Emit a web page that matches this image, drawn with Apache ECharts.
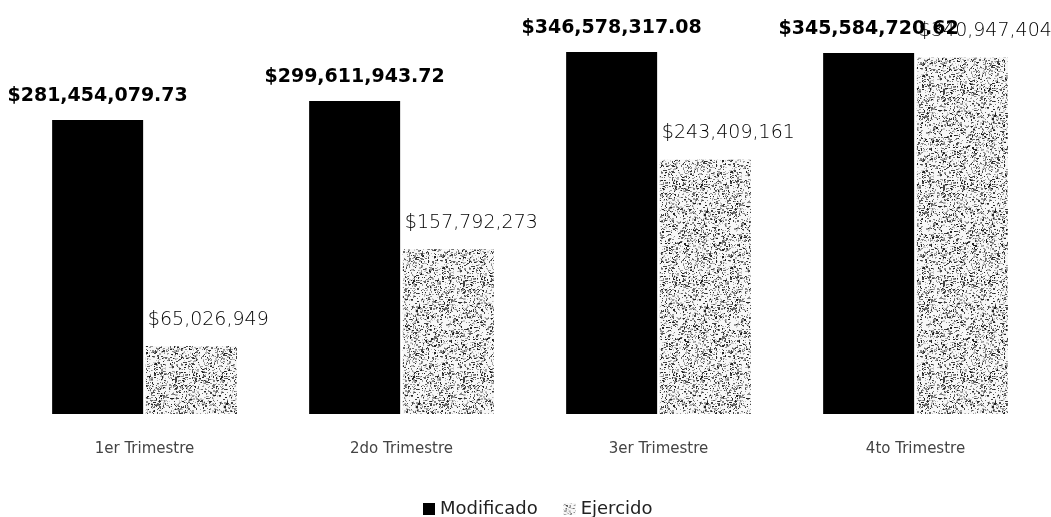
<!DOCTYPE html>
<html>
<head>
<meta charset="utf-8">
<script src="https://cdn.jsdelivr.net/npm/echarts@6/dist/echarts.min.js"></script>
<style>
html,body{margin:0;padding:0;background:#fff;}
#chart{width:1051px;height:517px;}
</style>
</head>
<body>
<div id="chart"></div>
<script>
// ---- data ----
const categories = ['1er Trimestre', '2do Trimestre', '3er Trimestre', '4to Trimestre'];
const seriesNames = ['Modificado', 'Ejercido'];
const modificado = [281454079.73, 299611943.72, 346578317.08, 345584720.62];
const ejercido = [65026949, 157792273, 243409161, 340947404];

// ---- speckled texture (deterministic) ----
function makeSpeckle() {
  const c = document.createElement('canvas');
  c.width = 96; c.height = 96;
  const g = c.getContext('2d');
  g.fillStyle = '#f7f7f7';
  g.fillRect(0, 0, 96, 96);
  let s = 24680;
  const rnd = () => { s = (s * 1103515245 + 12345) & 0x7fffffff; return s / 0x7fffffff; };
  const shades = ['#222', '#444', '#666', '#888', '#9a9a9a', '#b4b4b4', '#cccccc'];
  for (let i = 0; i < 2300; i++) {
    const x = Math.floor(rnd() * 96), y = Math.floor(rnd() * 96);
    g.fillStyle = shades[Math.floor(rnd() * shades.length)];
    const w = rnd() < 0.35 ? 2 : 1, h = rnd() < 0.25 ? 2 : 1;
    g.fillRect(x, y, w, h);
  }
  return c;
}
const speckle = { image: makeSpeckle(), repeat: 'repeat' };

const fmtCents = v => '$' + v.toLocaleString('en-US', { minimumFractionDigits: 2, maximumFractionDigits: 2 });
const fmtInt = v => '$' + Math.round(v).toLocaleString('en-US');

const chart = echarts.init(document.getElementById('chart'), null, { renderer: 'canvas' });
chart.setOption({
  animation: false,
  backgroundColor: '#ffffff',
  grid: { left: 16, right: 7, top: 17, bottom: 103 },
  legend: {
    left: 418, top: 495,
    itemWidth: 12, itemHeight: 12, itemGap: 26,
    icon: 'rect',
    textStyle: { fontFamily: 'DejaVu Sans', fontSize: 18, color: '#222' },
    data: seriesNames
  },
  xAxis: {
    type: 'category',
    data: categories,
    axisLine: { show: false },
    axisTick: { show: false },
    axisLabel: { margin: 28, fontFamily: 'DejaVu Sans', fontSize: 15, color: '#444' }
  },
  yAxis: { type: 'value', min: 0, max: 380, show: false, splitLine: { show: false } },
  series: [
    {
      name: seriesNames[0],
      type: 'bar',
      barWidth: 91,
      barGap: '3%',
      data: modificado.map(v => v / 1e6),
      itemStyle: { color: '#000' },
      label: {
        show: true, position: 'top', distance: 14,
        formatter: p => fmtCents(modificado[p.dataIndex]),
        fontFamily: 'DejaVu Sans', fontWeight: 'bold', fontSize: 19, color: '#000'
      }
    },
    {
      name: seriesNames[1],
      type: 'bar',
      barWidth: 91,
      data: ejercido.map(v => v / 1e6),
      itemStyle: { color: speckle },
      label: {
        show: true, position: [2, -36], align: 'left',
        formatter: p => fmtInt(ejercido[p.dataIndex]),
        fontFamily: 'DejaVu Sans', fontWeight: 200, fontSize: 19, color: '#000'
      }
    }
  ]
});
</script>
</body>
</html>
